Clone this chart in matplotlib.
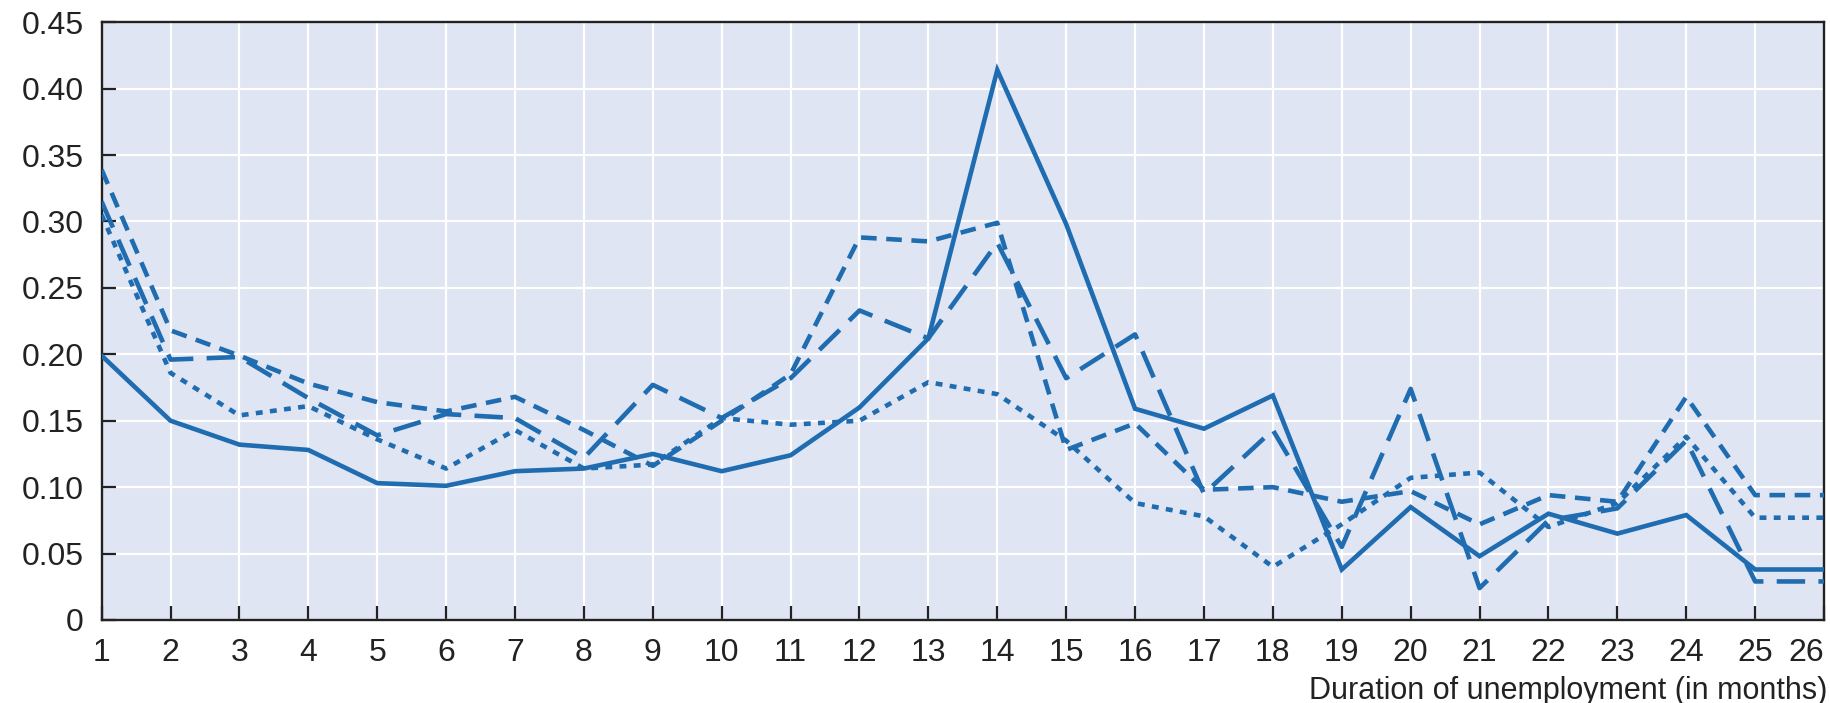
import matplotlib
matplotlib.use("Agg")
import matplotlib.pyplot as plt
from matplotlib.ticker import FixedLocator

# Months of unemployment duration
months = list(range(1, 27))

# Exit probabilities by duration, four series distinguished by line style
series_solid = [0.199, 0.150, 0.132, 0.128, 0.103, 0.101, 0.112, 0.114, 0.125, 0.112,
                0.124, 0.160, 0.212, 0.414, 0.298, 0.159, 0.144, 0.169, 0.038, 0.085,
                0.048, 0.080, 0.065, 0.079, 0.038, 0.038]
series_short_dash = [0.339, 0.218, 0.199, 0.178, 0.164, 0.157, 0.168, 0.143, 0.116, 0.150,
                     0.185, 0.288, 0.285, 0.299, 0.128, 0.148, 0.098, 0.100, 0.089, 0.097,
                     0.072, 0.094, 0.089, 0.168, 0.094, 0.094]
series_long_dash = [0.315, 0.196, 0.198, 0.167, 0.139, 0.155, 0.152, 0.122, 0.177, 0.152,
                    0.182, 0.233, 0.212, 0.284, 0.182, 0.215, 0.095, 0.143, 0.055, 0.174,
                    0.024, 0.075, 0.084, 0.135, 0.029, 0.029]
series_dotted = [0.305, 0.186, 0.154, 0.161, 0.136, 0.114, 0.143, 0.114, 0.117, 0.152,
                 0.147, 0.150, 0.179, 0.170, 0.135, 0.088, 0.078, 0.040, 0.072, 0.107,
                 0.111, 0.070, 0.088, 0.138, 0.077, 0.077]

y_ticks = [0, 0.05, 0.10, 0.15, 0.20, 0.25, 0.30, 0.35, 0.40, 0.45]
y_tick_labels = ["0", "0.05", "0.10", "0.15", "0.20", "0.25", "0.30", "0.35", "0.40", "0.45"]
x_title = "Duration of unemployment (in months)"

FONT = ["Liberation Sans", "DejaVu Sans"]
LINE = "#1f6cb0"
BG = "#dfe5f2"
INK = "#222222"
FS = 23

fig = plt.figure(figsize=(18.31, 7.03), dpi=100)
ax = fig.add_axes([0.0555, 0.1181, 0.9407, 0.8503])
ax.set_facecolor(BG)

lw = 3.3
ax.plot(months, series_dotted, color=LINE, lw=lw, dashes=(1.5, 1.6),
        dash_capstyle="butt", zorder=3)
ax.plot(months, series_short_dash, color=LINE, lw=lw, dashes=(3.4, 2.1),
        dash_capstyle="butt", zorder=3)
ax.plot(months, series_long_dash, color=LINE, lw=lw, dashes=(6.2, 2.9),
        dash_capstyle="butt", zorder=3)
ax.plot(months, series_solid, color=LINE, lw=lw, solid_joinstyle="miter", zorder=4)

ax.set_xlim(1, 26)
ax.set_ylim(0, 0.45)
ax.xaxis.set_major_locator(FixedLocator(months))
ax.yaxis.set_major_locator(FixedLocator(y_ticks))
ax.set_xticklabels([str(m) for m in months], family=FONT, fontsize=FS, color=INK)
ax.set_yticklabels(y_tick_labels, family=FONT, fontsize=FS, color=INK)
ax.get_xticklabels()[-1].set_horizontalalignment("right")

ax.grid(True, color="white", lw=1.6, zorder=1)
ax.set_axisbelow(True)
ax.tick_params(axis="both", direction="in", length=10, width=1.6, color=INK)
ax.tick_params(axis="x", pad=13)
ax.tick_params(axis="y", pad=13)
for s in ax.spines.values():
    s.set_color(INK)
    s.set_linewidth(1.7)

fig.text(0.9982, 0.006, x_title, ha="right", va="baseline",
         family=FONT, fontsize=22, color=INK)

fig.savefig("out.png", dpi=100, facecolor="white")
